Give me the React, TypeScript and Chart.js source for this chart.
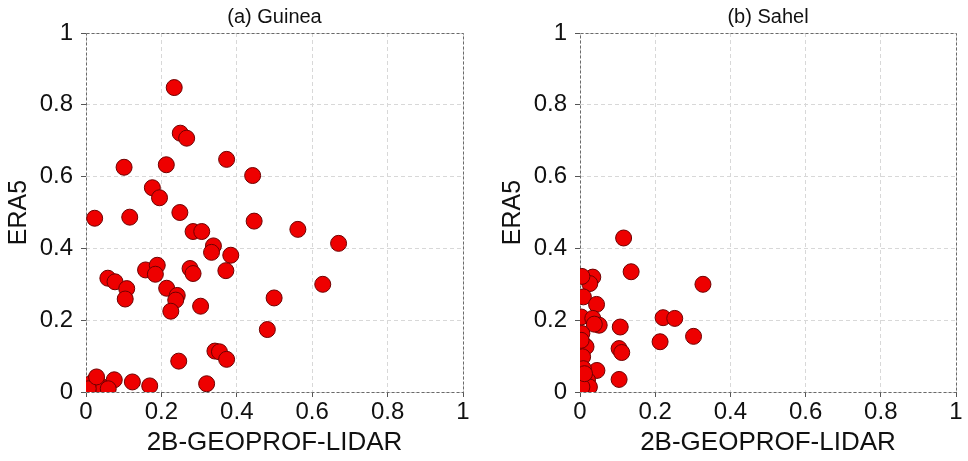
import React, { useEffect, useRef } from "react";
import { Chart, registerables } from "chart.js";

Chart.register(...registerables);

// (a) Guinea
const guineaX = [
  0.234, 0.25, 0.267, 0.373, 0.101, 0.213, 0.442, 0.176, 0.195, 0.023,
  0.116, 0.249, 0.446, 0.284, 0.307, 0.562, 0.67, 0.338, 0.333, 0.384,
  0.158, 0.189, 0.184, 0.276, 0.284, 0.371, 0.058, 0.077, 0.108, 0.104,
  0.214, 0.242, 0.238, 0.225, 0.304, 0.628, 0.499, 0.481, 0.342, 0.354,
  0.373, 0.246, 0.32, 0.169, 0.123, 0.075, 0.024, 0.012, 0.037, 0.046,
  0.059, 0.006, 0.028,
];
const guineaY = [
  0.848, 0.721, 0.707, 0.648, 0.626, 0.633, 0.603, 0.569, 0.541, 0.484,
  0.487, 0.5, 0.476, 0.447, 0.447, 0.453, 0.414, 0.407, 0.389, 0.381,
  0.34, 0.353, 0.328, 0.344, 0.33, 0.338, 0.317, 0.307, 0.288, 0.259,
  0.289, 0.269, 0.256, 0.225, 0.239, 0.3, 0.262, 0.174, 0.114, 0.112,
  0.091, 0.086, 0.023, 0.017, 0.028, 0.034, 0.033, 0.023, 0.019, 0.009,
  0.009, 0.009, 0.042,
];

// (b) Sahel
const sahelX = [
  0.116, 0.136, 0.327, 0.034, 0.026, 0.005, 0.009, 0.044, 0.003, 0.034,
  0.051, 0.038, 0.107, 0.221, 0.252, 0.213, 0.302, 0.104, 0.111, 0.104,
  0.045, 0.005, 0.012, 0.016, 0.007, 0.009, 0.02, 0.025, 0.005, 0.003,
  0.012,
];
const sahelY = [
  0.429, 0.335, 0.3, 0.32, 0.302, 0.322, 0.265, 0.244, 0.209, 0.205,
  0.186, 0.189, 0.181, 0.207, 0.205, 0.14, 0.155, 0.121, 0.11, 0.035,
  0.06, 0.163, 0.13, 0.126, 0.098, 0.065, 0.033, 0.014, 0.014, 0.144,
  0.051,
];

const panelTitles = ["(a) Guinea", "(b) Sahel"];
const xAxisTitle = "2B-GEOPROF-LIDAR";
const yAxisTitle = "ERA5";
const axisMin = 0;
const axisMax = 1;
const axisStep = 0.2;

const FONT = "'Liberation Sans', Arial, Helvetica, sans-serif";

const formatTick = (v: number | string) => String(Number(Number(v).toFixed(1)));

const framePlugin = {
  id: "dashedFrame",
  beforeDatasetsDraw(chart: any) {
    const { ctx, chartArea } = chart;
    ctx.save();
    ctx.strokeStyle = "#6a6a6a";
    ctx.lineWidth = 1;
    ctx.setLineDash([3, 2]);
    ctx.strokeRect(
      Math.round(chartArea.left) + 0.5,
      Math.round(chartArea.top) + 0.5,
      Math.round(chartArea.right - chartArea.left),
      Math.round(chartArea.bottom - chartArea.top)
    );
    ctx.restore();
  },
};

type PanelProps = {
  title: string;
  xs: number[];
  ys: number[];
  yAxisWidth: number;
  yTitlePad: number;
  rightPad: number;
};

function Panel({ title, xs, ys, yAxisWidth, yTitlePad, rightPad }: PanelProps) {
  const ref = useRef<HTMLCanvasElement | null>(null);

  useEffect(() => {
    if (!ref.current) return;
    const data = xs.map((x, i) => ({ x, y: ys[i] }));
    const axisCommon = {
      type: "linear" as const,
      min: axisMin,
      max: axisMax,
      grid: {
        color: "#d8d8d8",
        lineWidth: 1,
        drawTicks: true,
        tickLength: 5,
        tickColor: "#555",
      },
      border: { display: false, dash: [4, 3] },
    };
    const chart = new Chart(ref.current, {
      type: "scatter",
      data: {
        datasets: [
          {
            data,
            backgroundColor: "#ee0000",
            borderColor: "#6e0000",
            borderWidth: 1,
            pointRadius: 8,
            pointHoverRadius: 8,
          },
        ],
      },
      options: {
        responsive: false,
        animation: false,
        layout: { padding: { left: 0, right: rightPad, top: 0, bottom: 0 } },
        plugins: {
          legend: { display: false },
          tooltip: { enabled: false },
          title: {
            display: true,
            text: title,
            fullSize: false,
            color: "#111",
            font: { family: FONT, size: 20, weight: "normal" },
            padding: { top: 5, bottom: 4 },
          },
        },
        scales: {
          x: {
            ...axisCommon,
            position: "bottom",
            afterFit: (scale: any) => {
              scale.height = 69;
            },
            ticks: {
              stepSize: axisStep,
              color: "#111",
              padding: 1,
              maxRotation: 0,
              font: { family: FONT, size: 24 },
              callback: (v: any) => formatTick(v),
            },
            title: {
              display: true,
              text: xAxisTitle,
              color: "#111",
              font: { family: FONT, size: 26 },
              padding: { top: 0, bottom: 3 },
            },
          },
          y: {
            ...axisCommon,
            position: "left",
            afterFit: (scale: any) => {
              scale.width = yAxisWidth;
            },
            ticks: {
              stepSize: axisStep,
              color: "#111",
              padding: 8,
              font: { family: FONT, size: 24 },
              callback: (v: any) => formatTick(v),
            },
            title: {
              display: true,
              text: yAxisTitle,
              color: "#111",
              font: { family: FONT, size: 25 },
              padding: { top: yTitlePad, bottom: 0 },
            },
          },
        },
      },
      plugins: [framePlugin],
    });
    return () => chart.destroy();
  }, [title, xs, ys, yAxisWidth, yTitlePad, rightPad]);

  return <canvas ref={ref} width={484} height={461} style={{ display: "block" }} />;
}

export default function App() {
  return (
    <div
      style={{
        position: "fixed",
        left: 0,
        top: 0,
        width: 968,
        height: 461,
        display: "flex",
        background: "#fff",
      }}
    >
      <Panel title={panelTitles[0]} xs={guineaX} ys={guineaY} yAxisWidth={86} yTitlePad={4} rightPad={21} />
      <Panel title={panelTitles[1]} xs={sahelX} ys={sahelY} yAxisWidth={96} yTitlePad={14} rightPad={12} />
    </div>
  );
}
